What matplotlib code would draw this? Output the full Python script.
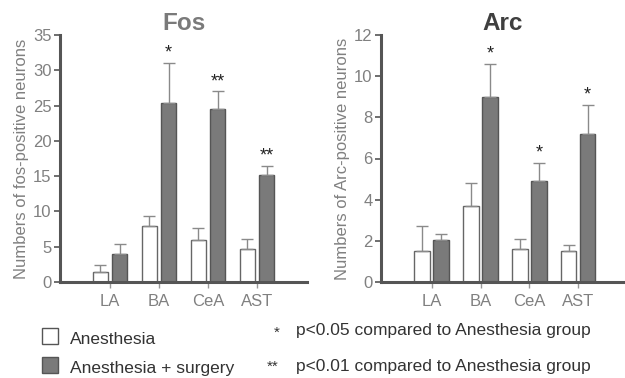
import numpy as np
import matplotlib
matplotlib.use('Agg')
import matplotlib.pyplot as plt
from matplotlib.patches import Rectangle

plt.rcParams['font.family'] = ['Liberation Sans', 'DejaVu Sans']

regions = ['LA', 'BA', 'CeA', 'AST']

fos_anes = [1.4, 7.9, 6.0, 4.7]
fos_anes_err = [1.0, 1.4, 1.6, 1.4]
fos_surg = [4.0, 25.4, 24.5, 15.1]
fos_surg_err = [1.4, 5.7, 2.5, 1.3]
fos_marks = ['', '*', '**', '**']

arc_anes = [1.5, 3.7, 1.6, 1.5]
arc_anes_err = [1.2, 1.1, 0.5, 0.3]
arc_surg = [2.05, 9.0, 4.9, 7.2]
arc_surg_err = [0.3, 1.6, 0.9, 1.4]
arc_marks = ['', '*', '*', '*']

W, H = 625, 378
fig = plt.figure(figsize=(W / 100, H / 100), dpi=100)

axis_col = '#555555'
text_col = '#808080'
gray_bar = '#7a7a7a'


def panel(rect, xlim, anes, anes_err, surg, surg_err, marks, ymax, yticks,
          title, title_col, ylabel):
    ax = fig.add_axes(rect)
    x = np.arange(len(regions))
    w = 0.32
    off = 0.195
    ax.bar(x - off, anes, w, color='white', edgecolor='#666666', linewidth=1.0,
           yerr=[np.zeros(len(anes)), anes_err], capsize=4,
           error_kw=dict(ecolor='#8a8a8a', elinewidth=1.0, capthick=1.0))
    ax.bar(x + off, surg, w, color=gray_bar, edgecolor='#555555', linewidth=1.0,
           yerr=[np.zeros(len(surg)), surg_err], capsize=4,
           error_kw=dict(ecolor='#8a8a8a', elinewidth=1.0, capthick=1.0))
    for i, m in enumerate(marks):
        if m:
            ax.annotate(m, (x[i] + off, surg[i] + surg_err[i]),
                        xytext=(0, 1), textcoords='offset points',
                        ha='center', va='bottom', fontsize=13, color='#222222')
    ax.set_xlim(*xlim)
    ax.set_ylim(0, ymax)
    ax.set_yticks(yticks)
    ax.set_xticks(x)
    ax.set_xticklabels(regions)
    for s in ['top', 'right']:
        ax.spines[s].set_visible(False)
    for s in ['left', 'bottom']:
        ax.spines[s].set_color(axis_col)
        ax.spines[s].set_linewidth(2.2)
    ax.tick_params(axis='y', colors=axis_col, labelcolor=text_col,
                   labelsize=12, length=4, width=1.2, pad=2)
    ax.tick_params(axis='x', colors='#999999', labelcolor=text_col,
                   labelsize=12, length=4, width=1, pad=5)
    ax.set_ylabel(ylabel, color=text_col, fontsize=12, labelpad=3)
    ax.set_title(title, color=title_col, fontsize=17.5, fontweight='bold', pad=3)
    return ax


panel([60 / W, 96 / H, 247 / W, 247 / H], (-1.02, 4.02), fos_anes, fos_anes_err,
      fos_surg, fos_surg_err, fos_marks, 35, range(0, 36, 5), 'Fos', '#7a7a7a',
      'Numbers of fos-positive neurons')
panel([381 / W, 96 / H, 244 / W, 247 / H], (-1.04, 3.96), arc_anes, arc_anes_err,
      arc_surg, arc_surg_err, arc_marks, 12, range(0, 13, 2), 'Arc', '#3f3f3f',
      'Numbers of Arc-positive neurons')

# legend
fig.patches.append(Rectangle((42 / W, 1 - 344 / H), 16 / W, 16 / H,
                             transform=fig.transFigure, facecolor='white',
                             edgecolor='#555555', linewidth=1))
fig.patches.append(Rectangle((42 / W, 1 - 373 / H), 16 / W, 16 / H,
                             transform=fig.transFigure, facecolor=gray_bar,
                             edgecolor='#555555', linewidth=1))
fig.text(70 / W, 1 - 340 / H, 'Anesthesia', fontsize=12.5, color='#333333', va='center')
fig.text(70 / W, 1 - 368 / H, 'Anesthesia + surgery', fontsize=12.5, color='#333333', va='center')
fig.text(277 / W, 1 - 333 / H, '*', fontsize=11, color='#333333', va='center', ha='center')
fig.text(273 / W, 1 - 367 / H, '**', fontsize=11, color='#333333', va='center', ha='center')
fig.text(296 / W, 1 - 330 / H, 'p<0.05 compared to Anesthesia group', fontsize=12.5,
         color='#333333', va='center')
fig.text(296 / W, 1 - 366 / H, 'p<0.01 compared to Anesthesia group', fontsize=12.5,
         color='#333333', va='center')

fig.savefig('out.png', dpi=100)
